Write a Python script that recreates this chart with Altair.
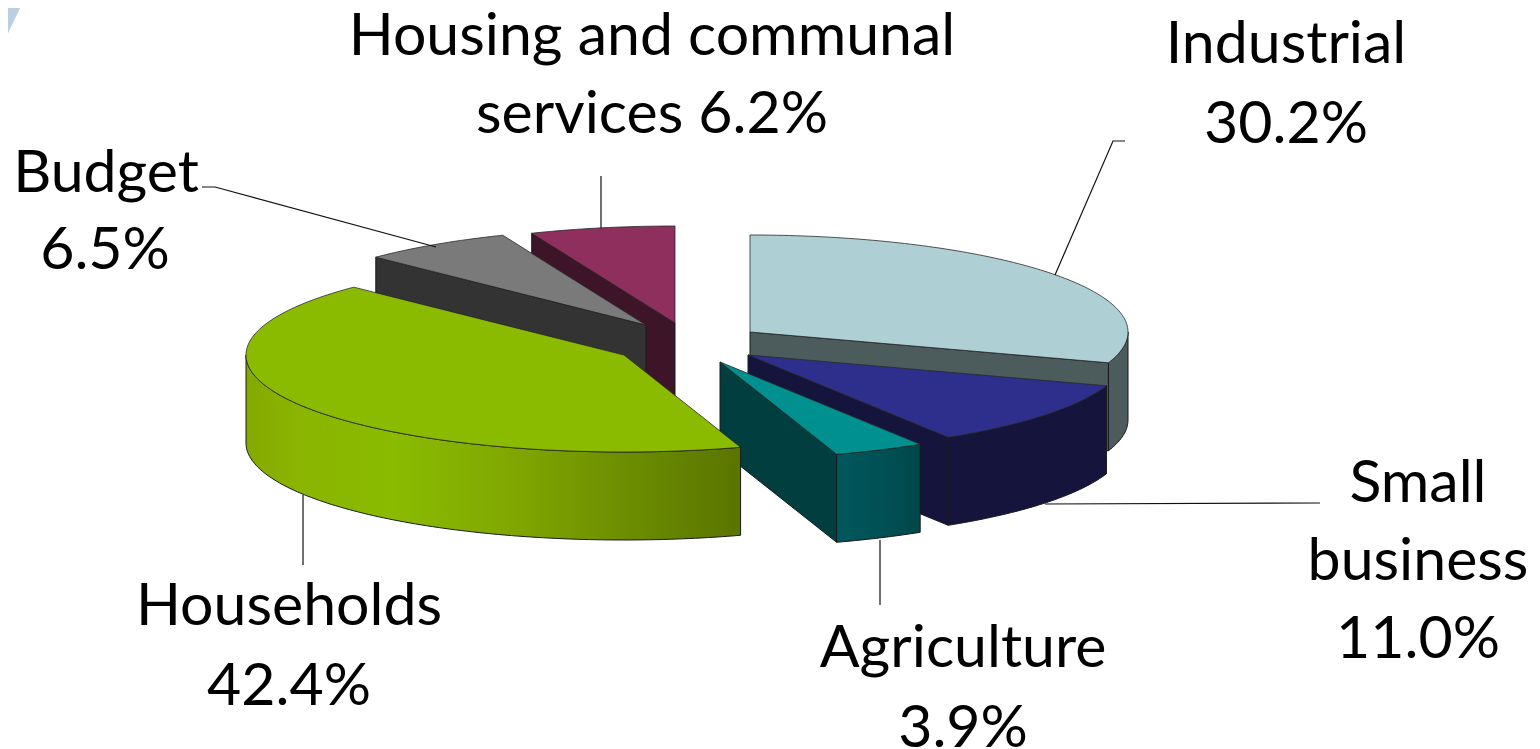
import math
import altair as alt
import pandas as pd

W, H = 1524, 741
categories = ["Industrial", "Small business", "Agriculture", "Households", "Budget", "Housing and communal services"]
shares = [30.2, 11.0, 3.9, 42.4, 6.5, 6.2]
top_colors = ["#aecfd4", "#2e2e8c", "#009090", "#8abb00", "#7a7a7a", "#8e2f5e"]
wall_colors = ["#4c5b5c", "#14143c", "#003e40", "#6f8f00", "#333333", "#3d1428"]
center_x = [750, 748, 720, 624, 646, 675]
center_y = [332, 355, 362, 355, 325, 323]
RX, RY, DEPTH = 378, 97, 88
draw_order = [5, 4, 0, 1, 2, 3]
closing_wall = ["Industrial", "Small business", "Agriculture"]
opening_wall = ["Budget", "Housing and communal services"]

label_lines = [
    ("Housing and communal", 652, 55), ("services 6.2%", 652, 133),
    ("Industrial", 1286, 63), ("30.2%", 1286, 143),
    ("Budget", 106, 192), ("6.5%", 105, 269),
    ("Small", 1418, 502), ("business", 1418, 580), ("11.0%", 1418, 658),
    ("Agriculture", 963, 667), ("3.9%", 963, 747),
    ("Households", 289, 625), ("42.4%", 289, 705),
]
leaders = [
    [(1125, 141), (1113, 141), (1055, 275)],
    [(202, 187), (215, 187), (436, 247)],
    [(601, 176), (601, 228)],
    [(1320, 503), (1045, 504)],
    [(880, 605), (880, 540)],
    [(303, 565), (303, 495)],
]
corner = [(0, 0), (24, 0), (0, 50)]

X = alt.X("x:Q", scale=alt.Scale(domain=[8, 8 + W], nice=False, zero=False), axis=None)
Y = alt.Y("y:Q", scale=alt.Scale(domain=[8 + H, 8], nice=False, zero=False), axis=None)


def poly(points, fill, stroke="#1a1a1a", sw=1.0):
    df = pd.DataFrame([{"x": p[0], "y": p[1], "i": n} for n, p in enumerate(points)])
    return alt.Chart(df).mark_line(
        interpolate="linear-closed", fill=fill, stroke=stroke, strokeWidth=sw
    ).encode(x=X, y=Y, order=alt.Order("i:Q"))


def edge(cx, cy, deg, drop=0):
    a = math.radians(deg)
    return (cx + RX * math.sin(a), cy - RY * math.cos(a) + drop)


def arc(cx, cy, a0, a1, drop=0):
    n = max(2, int(abs(a1 - a0)))
    return [edge(cx, cy, a0 + (a1 - a0) * k / n, drop) for k in range(n + 1)]


def gradient(stops):
    return alt.LinearGradient(
        gradient="linear", x1=0, x2=1, y1=0, y2=0,
        stops=[alt.GradientStop(offset=o, color=c) for o, c in stops],
    )


starts = [0.0]
for s in shares[:-1]:
    starts.append(starts[-1] + s * 3.6 * 100 / sum(shares))
ends = [s + v * 3.6 * 100 / sum(shares) for s, v in zip(starts, shares)]

wall_fill = {
    "Households": gradient([(0, "#84a800"), (0.1, "#8ab400"), (0.3, "#8abb00"), (0.55, "#7fa600"), (0.8, "#6a8a00"), (1, "#5a7500")]),
    "Agriculture": gradient([(0, "#00585c"), (0.6, "#004f54"), (1, "#00484a")]),
}

layers = [poly(corner, "#b9d0e2", stroke="#b9d0e2", sw=0)]
for idx in draw_order:
    name, cx, cy = categories[idx], center_x[idx], center_y[idx]
    a0, a1 = starts[idx], ends[idx]
    apex = (cx, cy)
    # the straight cut that faces the viewer
    if name in closing_wall or name in opening_wall:
        p = edge(cx, cy, a1 if name in closing_wall else a0)
        layers.append(poly([apex, p, (p[0], p[1] + DEPTH), (cx, cy + DEPTH)], wall_colors[idx]))
    # outer wall, on the near half of the rim
    w0, w1 = max(a0, 90), min(a1, 270)
    if w1 > w0:
        pts = arc(cx, cy, w0, w1) + arc(cx, cy, w1, w0, DEPTH)
        layers.append(poly(pts, wall_fill.get(name, wall_colors[idx])))
    # top face
    layers.append(poly([apex] + arc(cx, cy, a0, a1), top_colors[idx], stroke="#2a2a2a", sw=0.8))

for n, line in enumerate(leaders):
    df = pd.DataFrame([{"x": p[0], "y": p[1], "i": k} for k, p in enumerate(line)])
    layers.append(
        alt.Chart(df).mark_line(color="#111111", strokeWidth=1.2).encode(x=X, y=Y, order=alt.Order("i:Q"))
    )

labels_df = pd.DataFrame(label_lines, columns=["t", "x", "y"])
layers.append(
    alt.Chart(labels_df).mark_text(
        font="Lato", fontSize=59, align="center", baseline="alphabetic", color="#000000"
    ).encode(x=X, y=Y, text="t:N")
)

chart = alt.layer(*layers).properties(
    width=W, height=H, padding=0, autosize=alt.AutoSizeParams(type="none")
).configure_view(stroke=None)

chart.save("out.html", embed_options={"renderer": "svg", "actions": False})
